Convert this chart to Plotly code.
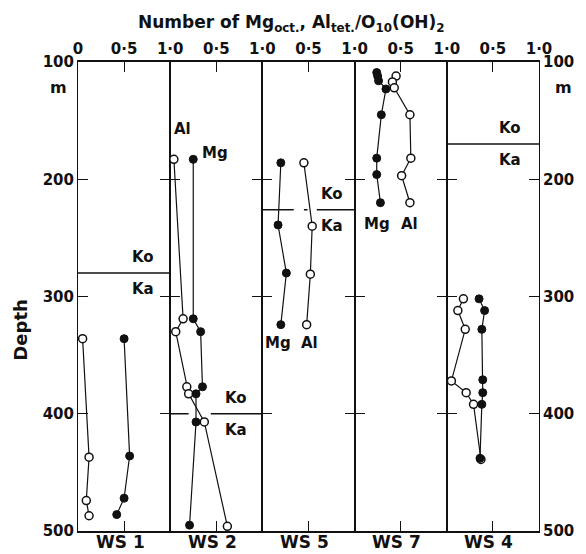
import plotly.graph_objects as go
from plotly.subplots import make_subplots

# ---- data -------------------------------------------------------------
wells = ["WS 1", "WS 2", "WS 5", "WS 7", "WS 4"]

ws1_mg_depth = [336, 436, 472, 486]
ws1_mg = [0.50, 0.56, 0.50, 0.42]
ws1_al_depth = [336, 437, 474, 487]
ws1_al = [0.05, 0.12, 0.09, 0.12]

ws2_mg_depth = [183, 319, 330, 377, 383, 407, 495]
ws2_mg = [0.25, 0.25, 0.33, 0.35, 0.28, 0.28, 0.21]
ws2_al_depth = [183, 319, 330, 377, 383, 407, 496]
ws2_al = [0.04, 0.14, 0.06, 0.18, 0.20, 0.37, 0.62]

ws5_mg_depth = [186, 239, 280, 324]
ws5_mg = [0.20, 0.17, 0.26, 0.20]
ws5_al_depth = [186, 240, 281, 324]
ws5_al = [0.45, 0.54, 0.52, 0.48]

ws7_mg_depth = [109, 112, 116, 123, 145, 182, 196, 220]
ws7_mg = [0.24, 0.25, 0.26, 0.34, 0.29, 0.24, 0.24, 0.28]
ws7_al_depth = [112, 117, 122, 145, 182, 197, 220]
ws7_al = [0.45, 0.41, 0.43, 0.60, 0.61, 0.51, 0.60]

ws4_mg_depth = [302, 312, 328, 371, 382, 392, 438]
ws4_mg = [0.35, 0.41, 0.38, 0.39, 0.39, 0.38, 0.36]
ws4_al_depth = [302, 312, 328, 372, 382, 392, 439]
ws4_al = [0.18, 0.12, 0.20, 0.05, 0.21, 0.29, 0.37]

# depth (m) of the Ko / Ka formation boundary in each well (None: not reached)
ko_ka_depth = [280, 400, 226, None, 170]

depth_ticks = [100, 200, 300, 400, 500]
x_tick_vals = [0, 0.5, 1.0]
x_tick_text = ["0", "0·5", "1·0"]

mg_series = [(ws1_mg, ws1_mg_depth), (ws2_mg, ws2_mg_depth), (ws5_mg, ws5_mg_depth),
             (ws7_mg, ws7_mg_depth), (ws4_mg, ws4_mg_depth)]
al_series = [(ws1_al, ws1_al_depth), (ws2_al, ws2_al_depth), (ws5_al, ws5_al_depth),
             (ws7_al, ws7_al_depth), (ws4_al, ws4_al_depth)]

# ---- layout constants ------------------------------------------------
W, H = 586, 554
L, R, T, B = 78, 544, 62, 531
FONT = "DejaVu Sans"
BLACK = "#111111"


def px_x(px):
    return (px - L) / (R - L)


def px_y(py):
    return (B - py) / (B - T)


def label(text, x, y, xref, yref, size, **kw):
    return dict(text=f"<b>{text}</b>", x=x, y=y, xref=xref, yref=yref,
                xanchor="center", yanchor="middle", showarrow=False,
                font=dict(family=FONT, size=size, color=BLACK), **kw)


fig = make_subplots(rows=1, cols=5, shared_yaxes=True, horizontal_spacing=0)

line_style = dict(color=BLACK, width=1.2)
for i in range(5):
    col = i + 1
    al_x, al_d = al_series[i]
    mg_x, mg_d = mg_series[i]
    fig.add_trace(go.Scatter(
        x=al_x, y=al_d, mode="lines+markers", line=line_style,
        marker=dict(symbol="circle", size=8, color="white",
                    line=dict(color=BLACK, width=1.5)),
        showlegend=False, hoverinfo="skip", cliponaxis=False), row=1, col=col)
    fig.add_trace(go.Scatter(
        x=mg_x, y=mg_d, mode="lines+markers", line=line_style,
        marker=dict(symbol="circle", size=8, color=BLACK,
                    line=dict(color=BLACK, width=1)),
        showlegend=False, hoverinfo="skip", cliponaxis=False), row=1, col=col)

# Ko/Ka boundary lines: pieces along the panel width (gaps where profiles cross)
boundary_pieces = {
    0: [(0.0, 1.0)],
    1: [(0.0, 0.20), (0.44, 1.0)],
    2: [(0.0, 0.34), (0.45, 0.49), (0.59, 1.0)],
    4: [(0.0, 1.0)],
}
label_x = {0: 0.70, 1: 0.71, 2: 0.75, 4: 0.69}

annotations = []
for i, d in enumerate(ko_ka_depth):
    if d is None:
        continue
    xr = "x" if i == 0 else f"x{i + 1}"
    for a, b in boundary_pieces[i]:
        fig.add_shape(type="line", xref=f"{xr} domain", yref="y",
                      x0=a, x1=b, y0=d, y1=d,
                      line=dict(color=BLACK, width=1.5))
    for txt, shift in (("Ko", 16), ("Ka", -16)):
        annotations.append(label(txt, label_x[i], d, f"{xr} domain", "y", 15,
                                 yshift=shift))

# Mg / Al curve labels
curve_labels = [
    (1, "Al", 0.13, 157), (1, "Mg", 0.49, 178),
    (2, "Mg", 0.17, 340), (2, "Al", 0.51, 340),
    (3, "Mg", 0.24, 238), (3, "Al", 0.60, 238),
]
for i, txt, xv, dv in curve_labels:
    annotations.append(label(txt, xv, dv, f"x{i + 1}", "y", 15))

# well names under each panel
for i, name in enumerate(wells):
    xr = "x" if i == 0 else f"x{i + 1}"
    annotations.append(label(name, 0.5, px_y(542), f"{xr} domain", "paper", 17,
                             xshift=-4))

# title, axis label, units
annotations.append(label(
    "Number of Mg<sub>oct.</sub>, Al<sub>tet.</sub>/O<sub>10</sub>(OH)<sub>2</sub>",
    px_x(294), px_y(23), "paper", "paper", 17))
annotations.append(label("Depth", px_x(19), px_y(330), "paper", "paper", 18,
                         textangle=-90))
for xp in (58, 569):
    annotations.append(label("m", px_x(xp), px_y(87), "paper", "paper", 16))

tick_font = dict(family=FONT, size=15, color=BLACK, weight="bold")

for i in range(5):
    key = "xaxis" if i == 0 else f"xaxis{i + 1}"
    vals = x_tick_vals if i == 0 else x_tick_vals[1:]
    txts = x_tick_text if i == 0 else x_tick_text[1:]
    fig.layout[key].update(
        range=[0, 1], side="top", tickvals=vals, ticktext=txts,
        ticks="inside", ticklen=10, tickwidth=1.4, tickcolor=BLACK,
        showline=True, linecolor=BLACK, linewidth=1.6, mirror="ticks",
        showgrid=False, zeroline=False, tickfont=tick_font)
    ykey = "yaxis" if i == 0 else f"yaxis{i + 1}"
    fig.layout[ykey].update(
        range=[500, 100], tickvals=depth_ticks,
        ticks="inside", ticklen=10, tickwidth=1.4, tickcolor=BLACK,
        showline=True, linecolor=BLACK, linewidth=1.0, mirror="ticks",
        showgrid=False, zeroline=False, tickfont=tick_font,
        showticklabels=(i in (0, 4)), side=("right" if i == 4 else "left"))

fig.update_layout(
    width=W, height=H,
    margin=dict(l=L, r=W - R, t=T, b=H - B, pad=0),
    paper_bgcolor="white", plot_bgcolor="white",
    annotations=annotations, showlegend=False,
)

fig.write_html("out.html")
